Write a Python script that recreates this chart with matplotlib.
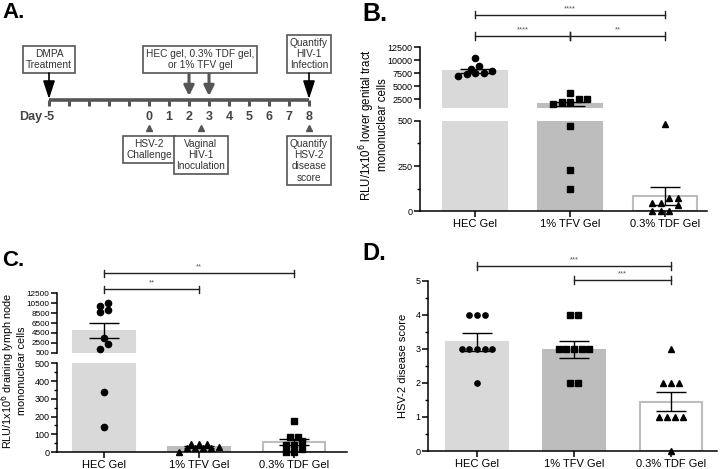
import numpy as np
import matplotlib
matplotlib.use("Agg")
import matplotlib.pyplot as plt
from matplotlib.ticker import MultipleLocator, FixedLocator
from matplotlib.transforms import blended_transform_factory

plt.rcParams['font.family'] = ['Liberation Sans', 'DejaVu Sans']

W, H = 720, 469

groups = ['HEC Gel', '1% TFV Gel', '0.3% TDF Gel']

# panel A: study timeline
day_ticks = list(range(-5, 9))
day_labels = ['-5', '', '', '', '', '0', '1', '2', '3', '4', '5', '6', '7', '8']
top_events = [(-5, 'DMPA\nTreatment'), (2.55, 'HEC gel, 0.3% TDF gel,\nor 1% TFV gel'),
              (8, 'Quantify\nHIV-1\nInfection')]
black_arrow_days = [-5, 8]
gel_days = [2, 3]
bottom_events = [(0, 'HSV-2\nChallenge'), (2.6, 'Vaginal\nHIV-1\nInoculation'),
                 (8, 'Quantify\nHSV-2\ndisease\nscore')]

# panel B: lower genital tract RLU
b_hec = [7980, 7480, 10380, 6960, 7400, 8890, 7600, 8370]
b_tfv = [2460, 1940, 3620, 1500, 1940, 2580, 470, 227, 121]
b_tdf = [481, 44, 73, 44, 73, 33, 2, 2, 2]
b_mean = [7930, 1550, 84]
b_sem = [450, 380, 52]
b_sig = [(0, 2, '****', 0), (0, 1, '****', 1), (1, 2, '**', 1)]

# panel C: draining lymph node RLU
c_hec = [10500, 9990, 9130, 8660, 3410, 2260, 1250, 337, 139]
c_tfv = [43, 24, 24, 43, 24, 43, 24, 26, 0]
c_tdf = [175, 86, 86, 64, 39, 39, 17, 2, 2]
c_mean = [4950, 29, 55]
c_sem = [1520, 5, 17]
c_sig = [(0, 2, '**', 0), (0, 1, '**', 1)]

# panel D: HSV-2 disease score
d_hec = [4, 4, 4, 3, 3, 3, 3, 3, 2]
d_tfv = [4, 4, 3, 3, 3, 3, 3, 2, 2]
d_tdf = [3, 2, 2, 2, 1, 1, 1, 1, 0]
d_mean = [3.2, 2.98, 1.45]
d_sem = [0.25, 0.24, 0.29]
d_sig = [(0, 2, '***', 0), (1, 2, '***', 1)]

fills = ['#d9d9d9', '#bdbdbd', 'white']
edges = ['#d9d9d9', '#bdbdbd', '#bdbdbd']

fig = plt.figure(figsize=(7.2, 4.69), dpi=100)


def px_ax(l, t, r, b):
    return fig.add_axes([l / W, 1 - b / H, (r - l) / W, (b - t) / H])


def style(ax, bottom=True):
    for s in ['top', 'right']:
        ax.spines[s].set_visible(False)
    ax.spines['left'].set_linewidth(1.1)
    if bottom:
        ax.spines['bottom'].set_linewidth(1.1)
    else:
        ax.spines['bottom'].set_visible(False)
        ax.tick_params(axis='x', bottom=False, labelbottom=False)
    ax.tick_params(direction='out', length=4, width=1.1, labelsize=6.5, pad=1.2)
    ax.tick_params(axis='x', labelsize=8, pad=1.5)
    ax.tick_params(which='minor', length=2.5, width=1)


def draw_bars(axes, means, sems, width):
    for ax in axes:
        for i in range(3):
            ax.bar(i, means[i], width, color=fills[i], edgecolor=edges[i], lw=1.5, zorder=1)
        ax.errorbar(range(3), means, yerr=sems, fmt='none', ecolor='k',
                    elinewidth=1, capsize=11, capthick=1, zorder=4)


def swarm_x(center, vals, to_disp, ppx, step):
    ys = np.array([to_disp(v) for v in vals])
    order = np.argsort(ys)
    xs = np.zeros(len(vals))
    rows, row = [], []
    for k in order:
        if row and ys[k] - ys[row[0]] > step * 0.8:
            rows.append(row)
            row = []
        row.append(k)
    rows.append(row)
    for row in rows:
        n = len(row)
        for m, k in enumerate(row):
            xs[k] = center + (m - (n - 1) / 2) * step / ppx
    return xs


def draw_points(up, lo, data, markers, ms, step):
    ppx = lo.transData.transform((1, 0))[0] - lo.transData.transform((0, 0))[0]
    split = up.get_ylim()[0] if up is not None else -1e9

    def pick(v):
        return up if (up is not None and v >= split) else lo

    for i, (vals, mk) in enumerate(zip(data, markers)):
        xs = swarm_x(i, vals, lambda v: pick(v).transData.transform((0, v))[1], ppx, step)
        for x, v in zip(xs, vals):
            pick(v).plot(x, v, mk, color='k', ms=ms, mec='k', clip_on=False, zorder=3)


def draw_sig(ax, sig, base_px, step_px):
    tr = blended_transform_factory(ax.transData, fig.transFigure)
    for i, j, lab, lev in sig:
        y = 1 - (base_px + lev * step_px) / H
        ax.plot([i, j], [y, y], color='#222', lw=1, transform=tr, clip_on=False)
        for x in (i, j):
            ax.plot([x, x], [y - 3.5 / H, y + 3.5 / H], color='#222', lw=1,
                    transform=tr, clip_on=False)
        ax.text((i + j) / 2, y + 2.5 / H, lab, transform=tr, ha='center', va='bottom',
                fontsize=5.5, color='#555')


# ---------------- panel A ----------------
axA = px_ax(0, 0, 360, 230)
axA.set_xlim((0 - 149) / 20, (360 - 149) / 20)
axA.set_ylim(230, 0)
axA.axis('off')
gray = '#555555'
axA.plot([day_ticks[0], day_ticks[-1]], [100, 100], color=gray, lw=2.6, solid_capstyle='butt')
for d, lab in zip(day_ticks, day_labels):
    axA.plot([d, d], [100, 106], color=gray, lw=2.2, solid_capstyle='butt')
    axA.text(d, 117, lab, ha='center', va='center', fontsize=9, fontweight='bold', color='#444')
axA.text(day_ticks[0] - 0.35, 117, 'Day', ha='right', va='center', fontsize=9,
         fontweight='bold', color='#444')
box = dict(boxstyle='square,pad=0.28', fc='white', ec=gray, lw=1.2)
for d, txt in top_events:
    axA.text(d, 70, txt, ha='center', va='bottom', fontsize=7.3, color='#333',
             linespacing=1.15, bbox=box)
for d, txt in bottom_events:
    axA.text(d, 139, txt, ha='center', va='top', fontsize=7.3, color='#333',
             linespacing=1.15, bbox=box)
for d in black_arrow_days:
    axA.annotate('', xy=(d, 99), xytext=(d, 73),
                 arrowprops=dict(arrowstyle='-|>,head_length=1.1,head_width=0.36',
                                 color='k', lw=1.2, shrinkA=0, shrinkB=0))
for d in gel_days:
    axA.annotate('', xy=(d, 96), xytext=(d, 74),
                 arrowprops=dict(arrowstyle='-|>,head_length=0.6,head_width=0.3',
                                 color=gray, lw=2.2, shrinkA=0, shrinkB=0))
axA.plot([e[0] for e in bottom_events], [128] * 3, '^', color=gray, ms=5)

# ---------------- panel B ----------------
xl_b = ((420 - 475) / 95, (707 - 475) / 95)
bu = px_ax(420, 47.3, 707, 107.7)
bl = px_ax(420, 121, 707, 211)
for ax in (bu, bl):
    ax.set_xlim(*xl_b)
bu.set_ylim(820, 12500)
bl.set_ylim(0, 500)
style(bu, bottom=False)
style(bl)
bu.yaxis.set_major_locator(FixedLocator([2500, 5000, 7500, 10000, 12500]))
bl.yaxis.set_major_locator(MultipleLocator(250))
bl.yaxis.set_minor_locator(MultipleLocator(125))
bl.set_xticks(range(3))
bl.set_xticklabels(groups)
draw_bars((bu, bl), b_mean, b_sem, 0.67)
draw_points(bu, bl, [b_hec, b_tfv, b_tdf], ['o', 's', '^'], 4.5, 8.5)
draw_sig(bl, b_sig, 15, 21)
fig.text(373 / W, 1 - 125 / H, 'RLU/1x10$^6$ lower genital tract\nmononuclear cells',
         rotation=90, ha='center', va='center', fontsize=8.3, linespacing=1.0)

# ---------------- panel C ----------------
xl_c = ((57 - 104) / 95, (347 - 104) / 95)
cu = px_ax(57, 293.3, 347, 352.7)
cl = px_ax(57, 363.3, 347, 452)
for ax in (cu, cl):
    ax.set_xlim(*xl_c)
cu.set_ylim(500, 12500)
cl.set_ylim(0, 500)
style(cu, bottom=False)
style(cl)
cu.tick_params(axis='y', labelsize=5.9)
cu.set_yticks(np.arange(500, 12501, 2000))
cl.yaxis.set_major_locator(MultipleLocator(100))
cl.yaxis.set_minor_locator(MultipleLocator(50))
cl.set_xticks(range(3))
cl.set_xticklabels(groups)
draw_bars((cu, cl), c_mean, c_sem, 0.66)
draw_points(cu, cl, [c_hec, c_tfv, c_tdf], ['o', '^', 's'], 4.5, 8)
draw_sig(cl, c_sig, 273.3, 16)
fig.text(13 / W, 1 - 371 / H, 'RLU/1x10$^6$ draining lymph node\nmononuclear cells',
         rotation=90, ha='center', va='center', fontsize=7.8, linespacing=1.0)

# ---------------- panel D ----------------
axD = px_ax(428, 280.7, 717, 451)
axD.set_xlim((428 - 477) / 97, (717 - 477) / 97)
axD.set_ylim(0, 5)
style(axD)
axD.yaxis.set_major_locator(MultipleLocator(1))
axD.yaxis.set_minor_locator(MultipleLocator(0.5))
axD.set_xticks(range(3))
axD.set_xticklabels(groups)
draw_bars((axD,), d_mean, d_sem, 0.64)
draw_points(None, axD, [d_hec, d_tfv, d_tdf], ['o', 's', '^'], 3.8, 7.7)
draw_sig(axD, d_sig, 266, 14)
fig.text(403 / W, 1 - 366 / H, 'HSV-2 disease score', rotation=90, ha='center',
         va='center', fontsize=8)

# panel letters
for lab, x, y, fs in [('A.', 2, 2, 16), ('B.', 362, 2, 18), ('C.', 2, 250, 16), ('D.', 362, 242, 17)]:
    fig.text(x / W, 1 - y / H, lab, ha='left', va='top', fontsize=fs, fontweight='bold')

fig.savefig('out.png', dpi=100)
